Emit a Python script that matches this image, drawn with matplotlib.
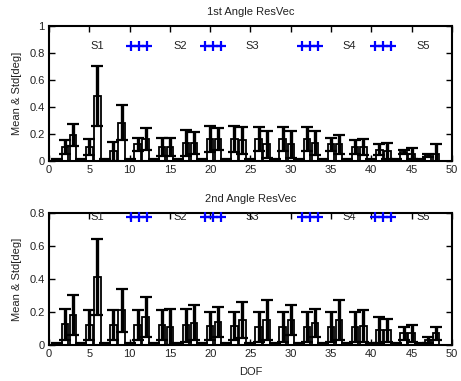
import numpy as np
import matplotlib
matplotlib.use("Agg")
import matplotlib.pyplot as plt

plt.rcParams['font.family'] = ['Liberation Sans', 'DejaVu Sans']

# residual vector angles per degree of freedom (mean and std, in degrees)
dof = np.arange(1, 49)

mean_1st = [0, 0.10, 0.19, 0, 0.10, 0.48, 0, 0.07, 0.28, 0, 0.12, 0.16,
            0, 0.10, 0.10, 0, 0.13, 0.13, 0, 0.16, 0.16, 0, 0.16, 0.15,
            0, 0.16, 0.12, 0, 0.16, 0.12, 0, 0.16, 0.13, 0, 0.12, 0.12,
            0, 0.10, 0.10, 0, 0.08, 0.07, 0, 0.06, 0.05, 0, 0.04, 0.05]
std_1st = [0.01, 0.055, 0.08, 0.01, 0.06, 0.22, 0.01, 0.07, 0.13, 0.01, 0.05, 0.08,
           0.01, 0.07, 0.07, 0.01, 0.10, 0.08, 0.01, 0.10, 0.08, 0.01, 0.10, 0.10,
           0.01, 0.09, 0.10, 0.01, 0.09, 0.10, 0.01, 0.09, 0.09, 0.01, 0.05, 0.07,
           0.01, 0.05, 0.06, 0.01, 0.04, 0.06, 0.01, 0.015, 0.04, 0.01, 0.012, 0.07]

mean_2nd = [0, 0.125, 0.18, 0, 0.12, 0.41, 0, 0.12, 0.21, 0, 0.12, 0.17,
            0, 0.12, 0.11, 0, 0.12, 0.135, 0, 0.115, 0.14, 0, 0.115, 0.15,
            0, 0.11, 0.15, 0, 0.11, 0.15, 0, 0.11, 0.135, 0, 0.11, 0.15,
            0, 0.11, 0.115, 0, 0.09, 0.09, 0, 0.07, 0.07, 0, 0.03, 0.07]
std_2nd = [0.01, 0.095, 0.12, 0.01, 0.09, 0.23, 0.01, 0.09, 0.13, 0.01, 0.09, 0.12,
           0.01, 0.09, 0.11, 0.01, 0.10, 0.105, 0.01, 0.085, 0.09, 0.01, 0.085, 0.11,
           0.01, 0.09, 0.12, 0.01, 0.09, 0.09, 0.01, 0.09, 0.085, 0.01, 0.09, 0.12,
           0.01, 0.09, 0.095, 0.01, 0.08, 0.07, 0.01, 0.04, 0.05, 0.01, 0.02, 0.04]

seg_names = ['S1', 'S2', 'S3', 'S4', 'S5']
seg_x = [6.0, 16.3, 25.2, 37.2, 46.5]
plus_x = [[10.2, 11.2, 12.2], [19.3, 20.3, 21.3], [31.4, 32.4, 33.4], [40.4, 41.4, 42.4]]

txt = '#222222'
fs = 8


def draw_panel(ax, mean, std, ymax, ystep, title, mark_y):
    ax.bar(dof, mean, width=0.8, color='white', edgecolor='black', linewidth=1.3, zorder=2)
    ax.errorbar(dof, mean, yerr=std, fmt='none', ecolor='black', elinewidth=2.4,
                capsize=4, capthick=1.6, zorder=3)
    for name, x in zip(seg_names, seg_x):
        ax.text(x, mark_y, name, ha='center', va='center', fontsize=fs,
                color=txt, clip_on=False, zorder=5)
    for xs in plus_x:
        ax.plot(xs, [mark_y] * 3, color='blue', marker='+', markersize=7,
                markeredgewidth=1.6, linewidth=1.6, clip_on=False, zorder=5)
    ax.set_xlim(0, 50)
    ax.set_ylim(0, ymax)
    ax.set_xticks(np.arange(0, 51, 5))
    yt = np.round(np.arange(0, ymax + 1e-9, ystep), 2)
    ax.set_yticks(yt)
    ax.set_yticklabels(['%g' % v for v in yt])
    ax.tick_params(direction='in', top=True, right=True, length=4, width=1,
                   labelsize=fs, labelcolor=txt, pad=3)
    for sp in ax.spines.values():
        sp.set_linewidth(1.5)
    ax.set_title(title, fontsize=fs, color=txt, pad=8)
    ax.set_ylabel('Mean & Std[deg]', fontsize=fs, color=txt)
    ax.yaxis.set_label_coords(-0.067, 0.5)


fig = plt.figure(figsize=(4.61, 3.81), dpi=100)
ax1 = fig.add_axes([0.1063, 0.5787, 0.874, 0.3530])
ax2 = fig.add_axes([0.1063, 0.0945, 0.874, 0.3465])

draw_panel(ax1, mean_1st, std_1st, 1.0, 0.2, '1st Angle ResVec', 0.85)
draw_panel(ax2, mean_2nd, std_2nd, 0.8, 0.2, '2nd Angle ResVec', 0.775)
ax2.set_xlabel('DOF', fontsize=fs, color=txt, labelpad=6)

fig.savefig('out.png', dpi=100)
